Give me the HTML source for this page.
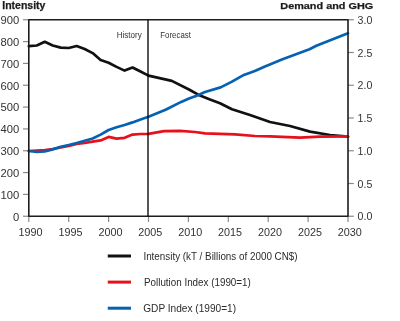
<!DOCTYPE html>
<html><head><meta charset="utf-8"><style>
html,body{margin:0;padding:0;background:#fff;}
body{width:400px;height:321px;overflow:hidden;}
svg{display:block;font-family:"Liberation Sans",sans-serif;}
</style></head><body>
<svg width="400" height="321" viewBox="0 0 400 321">
<rect width="400" height="321" fill="#fff"/>
<g stroke="#8a8a8a" stroke-width="1.2"><line x1="23" y1="216.25" x2="28.8" y2="216.25"/><line x1="23" y1="194.42" x2="28.8" y2="194.42"/><line x1="23" y1="172.58" x2="28.8" y2="172.58"/><line x1="23" y1="150.75" x2="28.8" y2="150.75"/><line x1="23" y1="128.92" x2="28.8" y2="128.92"/><line x1="23" y1="107.08" x2="28.8" y2="107.08"/><line x1="23" y1="85.25" x2="28.8" y2="85.25"/><line x1="23" y1="63.42" x2="28.8" y2="63.42"/><line x1="23" y1="41.58" x2="28.8" y2="41.58"/><line x1="23" y1="19.75" x2="28.8" y2="19.75"/><line x1="348.0" y1="216.25" x2="353.8" y2="216.25"/><line x1="348.0" y1="183.50" x2="353.8" y2="183.50"/><line x1="348.0" y1="150.75" x2="353.8" y2="150.75"/><line x1="348.0" y1="118.00" x2="353.8" y2="118.00"/><line x1="348.0" y1="85.25" x2="353.8" y2="85.25"/><line x1="348.0" y1="52.50" x2="353.8" y2="52.50"/><line x1="348.0" y1="19.75" x2="353.8" y2="19.75"/><line x1="28.80" y1="216.25" x2="28.80" y2="222"/><line x1="68.70" y1="216.25" x2="68.70" y2="222"/><line x1="108.60" y1="216.25" x2="108.60" y2="222"/><line x1="148.50" y1="216.25" x2="148.50" y2="222"/><line x1="188.40" y1="216.25" x2="188.40" y2="222"/><line x1="228.30" y1="216.25" x2="228.30" y2="222"/><line x1="268.20" y1="216.25" x2="268.20" y2="222"/><line x1="308.10" y1="216.25" x2="308.10" y2="222"/><line x1="348.00" y1="216.25" x2="348.00" y2="222"/></g>
<g fill="none" stroke-linejoin="round" stroke-linecap="round" stroke-width="2.7">
<polyline stroke="#111" points="28.80,46.20 36.78,45.50 44.76,41.80 52.74,45.50 60.72,47.60 68.70,48.00 76.68,46.00 84.66,49.00 92.64,53.10 100.62,60.00 108.60,62.75 116.58,66.90 124.56,70.60 132.54,67.50 140.52,71.50 148.50,75.60 171.80,80.90 189.00,89.50 200.00,95.60 210.00,99.60 220.00,103.30 232.00,109.20 250.00,115.00 270.00,122.00 290.00,126.00 310.00,131.60 330.00,135.00 348.00,136.60"/>
<polyline stroke="#e8101a" points="28.80,151.00 36.78,150.50 44.76,150.00 52.74,149.00 60.72,147.50 68.70,146.00 76.68,144.00 84.66,143.00 92.64,141.60 100.62,140.40 108.60,136.90 116.58,138.60 124.56,137.80 132.54,134.60 140.52,134.00 148.50,133.90 164.00,131.20 180.00,130.90 195.00,132.00 205.00,133.40 235.00,134.40 255.00,136.00 270.00,136.40 300.00,137.60 320.00,136.60 348.00,136.40"/>
<polyline stroke="#0562b3" points="28.80,151.00 36.78,152.00 44.76,151.50 52.74,149.40 60.72,146.80 68.70,145.00 76.68,143.00 84.66,140.80 92.64,138.50 100.62,134.60 108.60,130.00 116.58,127.30 124.56,125.00 132.54,122.40 140.52,119.50 148.50,116.75 165.60,109.70 181.20,101.90 189.00,98.50 196.70,95.70 205.00,92.05 220.60,87.40 231.50,81.90 243.90,74.90 254.80,71.00 265.00,66.40 282.50,59.20 309.50,49.30 316.30,45.70 348.00,33.30"/>
</g>
<g stroke="#1f1b1d" stroke-width="1.6" fill="none">
<line x1="28.8" y1="19.25" x2="28.8" y2="216.75"/>
<line x1="348.0" y1="19.25" x2="348.0" y2="216.75"/>
<line x1="28.8" y1="19.75" x2="348.0" y2="19.75"/>
<line x1="28.8" y1="216.25" x2="348.0" y2="216.25"/>
</g>
<line x1="148" y1="19.75" x2="148" y2="216.25" stroke="#231e20" stroke-width="1.5" style="mix-blend-mode:multiply"/>
<g fill="#333" font-size="10"><text x="19.25" y="220.55" text-anchor="end" textLength="6.23" lengthAdjust="spacingAndGlyphs">0</text><text x="19.25" y="198.72" text-anchor="end" textLength="18.69" lengthAdjust="spacingAndGlyphs">100</text><text x="19.25" y="176.88" text-anchor="end" textLength="18.69" lengthAdjust="spacingAndGlyphs">200</text><text x="19.25" y="155.05" text-anchor="end" textLength="18.69" lengthAdjust="spacingAndGlyphs">300</text><text x="19.25" y="133.22" text-anchor="end" textLength="18.69" lengthAdjust="spacingAndGlyphs">400</text><text x="19.25" y="111.38" text-anchor="end" textLength="18.69" lengthAdjust="spacingAndGlyphs">500</text><text x="19.25" y="89.55" text-anchor="end" textLength="18.69" lengthAdjust="spacingAndGlyphs">600</text><text x="19.25" y="67.72" text-anchor="end" textLength="18.69" lengthAdjust="spacingAndGlyphs">700</text><text x="19.25" y="45.88" text-anchor="end" textLength="18.69" lengthAdjust="spacingAndGlyphs">800</text><text x="19.25" y="24.05" text-anchor="end" textLength="18.69" lengthAdjust="spacingAndGlyphs">900</text><text x="357.6" y="220.25" textLength="14.74" lengthAdjust="spacingAndGlyphs">0.0</text><text x="357.6" y="187.50" textLength="14.74" lengthAdjust="spacingAndGlyphs">0.5</text><text x="357.6" y="154.75" textLength="14.74" lengthAdjust="spacingAndGlyphs">1.0</text><text x="357.6" y="122.00" textLength="14.74" lengthAdjust="spacingAndGlyphs">1.5</text><text x="357.6" y="89.25" textLength="14.74" lengthAdjust="spacingAndGlyphs">2.0</text><text x="357.6" y="56.50" textLength="14.74" lengthAdjust="spacingAndGlyphs">2.5</text><text x="357.6" y="23.75" textLength="14.74" lengthAdjust="spacingAndGlyphs">3.0</text><text x="18.60" y="236" textLength="24.03" lengthAdjust="spacingAndGlyphs">1990</text><text x="58.50" y="236" textLength="24.03" lengthAdjust="spacingAndGlyphs">1995</text><text x="98.40" y="236" textLength="24.03" lengthAdjust="spacingAndGlyphs">2000</text><text x="138.30" y="236" textLength="24.03" lengthAdjust="spacingAndGlyphs">2005</text><text x="178.20" y="236" textLength="24.03" lengthAdjust="spacingAndGlyphs">2010</text><text x="218.10" y="236" textLength="24.03" lengthAdjust="spacingAndGlyphs">2015</text><text x="258.00" y="236" textLength="24.03" lengthAdjust="spacingAndGlyphs">2020</text><text x="297.90" y="236" textLength="24.03" lengthAdjust="spacingAndGlyphs">2025</text><text x="337.80" y="236" textLength="24.03" lengthAdjust="spacingAndGlyphs">2030</text>
<text x="116.7" y="37.6" font-size="9.4" textLength="25.1" lengthAdjust="spacingAndGlyphs">History</text>
<text x="160.3" y="37.8" font-size="9.4" textLength="30.6" lengthAdjust="spacingAndGlyphs">Forecast</text>
</g>
<g fill="#1c1c1c" stroke="#1c1c1c" stroke-width="0.25" font-size="10" font-weight="bold">
<text x="2.25" y="9.2" font-size="10.3" textLength="43.2" lengthAdjust="spacingAndGlyphs">Intensity</text>
<text x="280.3" y="9.4" font-size="9.6" textLength="92.9" lengthAdjust="spacingAndGlyphs">Demand and GHG</text>
</g>
<g stroke-width="3">
<line x1="107.75" y1="256" x2="131" y2="256" stroke="#111"/>
<line x1="107.75" y1="282.1" x2="131" y2="282.1" stroke="#e8101a"/>
<line x1="107.75" y1="308.2" x2="131" y2="308.2" stroke="#0562b3"/>
</g>
<g fill="#2b2b2b" font-size="10.2">
<text x="143.4" y="260.2" textLength="154.21" lengthAdjust="spacingAndGlyphs">Intensity (kT / Billions of 2000 CN$)</text>
<text x="144" y="285.8" textLength="106.79" lengthAdjust="spacingAndGlyphs">Pollution Index (1990=1)</text>
<text x="143.25" y="311.6" textLength="92.85" lengthAdjust="spacingAndGlyphs">GDP Index (1990=1)</text>
</g>
</svg>
</body></html>
